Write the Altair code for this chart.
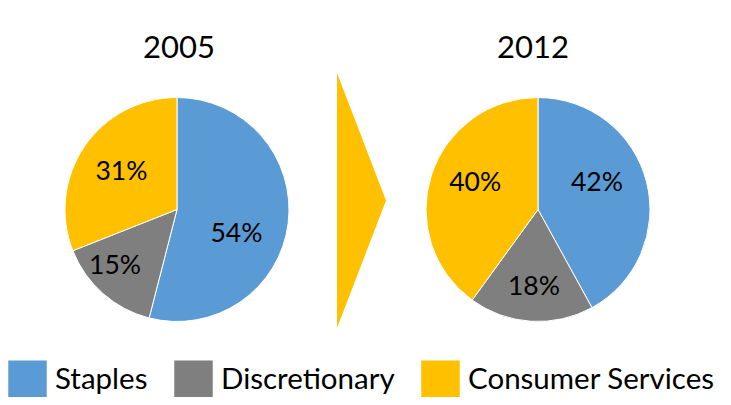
import altair as alt
import pandas as pd

categories = ["Staples", "Discretionary", "Consumer Services"]
share_2005 = [54, 15, 31]
share_2012 = [42, 18, 40]
years = ["2005", "2012"]
colors = ["#5B9BD5", "#7F7F7F", "#FFC000"]

FONT = "Lato"

rows = []
for yr, shares in zip(years, [share_2005, share_2012]):
    for i, (c, s) in enumerate(zip(categories, shares)):
        rows.append({"Year": yr, "Category": c, "Share": s, "Order": i, "Label": f"{s}%"})
df = pd.DataFrame(rows)
base_data = alt.Data(values=df.to_dict(orient="records"))

color = alt.Color(
    "Category:N",
    scale=alt.Scale(domain=categories, range=colors),
    sort=categories,
    legend=alt.Legend(
        orient="none", legendX=0, legendY=352, direction="horizontal",
        title=None, symbolType="square", symbolSize=1480, symbolStrokeWidth=0,
        symbolOpacity=1, labelFont=FONT, labelFontSize=29.5, labelColor="black",
        labelOffset=8, columnPadding=26, labelLimit=400,
    ),
)

# layout (pixel placement of each pie and best-fit label nudges)
centers = {"2005": 169, "2012": 530}
CY = 201.5
R = 112
label_radius = {"Staples": 66, "Discretionary": 80, "Consumer Services": 66}
nudge = {
    ("2005", "Staples"): (-6, 16),
    ("2005", "Discretionary"): (-9, -4),
    ("2005", "Consumer Services"): (-1, 0),
    ("2012", "Staples"): (-5, -10),
    ("2012", "Discretionary"): (1, -2),
    ("2012", "Consumer Services"): (0, -6),
}

layers = []
for yr in years:
    cx = centers[yr]
    arc = alt.Chart(base_data).transform_filter(alt.datum.Year == yr).mark_arc(
        outerRadius=R, stroke="white", strokeWidth=1
    ).encode(
        theta=alt.Theta("Share:Q", stack=True),
        order=alt.Order("Order:Q"),
        color=color,
        x=alt.value(cx), y=alt.value(CY),
    )
    layers.append(arc)
    for cat in categories:
        dx, dy = nudge[(yr, cat)]
        txt = alt.Chart(base_data).transform_filter(alt.datum.Year == yr).transform_window(
            cum="sum(Share)", sort=[alt.SortField("Order")], frame=[None, 0]
        ).transform_calculate(
            mid="datum.cum - datum.Share / 2"
        ).transform_filter(alt.datum.Category == cat).mark_text(
            font=FONT, fontSize=26.5, color="black", radius=label_radius[cat], dx=dx, dy=dy
        ).encode(
            theta=alt.Theta("mid:Q", stack=False, scale=alt.Scale(domain=[0, 100])),
            text="Label:N",
            x=alt.value(cx), y=alt.value(CY),
        )
        layers.append(txt)

title_data = alt.Data(values=[{"Year": y} for y in years])
title_pos = {"2005": 171, "2012": 525}
for yr in years:
    layers.append(
        alt.Chart(title_data).transform_filter(alt.datum.Year == yr).mark_text(
            font=FONT, fontSize=31, color="black", baseline="middle"
        ).encode(text="Year:N", x=alt.value(title_pos[yr]), y=alt.value(41))
    )

arrow_path = "M -0.192 -1 L 0.192 0 L -0.192 1 Z"
arrow = alt.Chart(alt.Data(values=[{"a": 1}])).mark_point(
    shape=arrow_path, size=65025, filled=True, color="#FFC000", opacity=1, strokeWidth=0
).encode(x=alt.value(353.5), y=alt.value(192.5))
layers.append(arrow)

chart = alt.layer(*layers).resolve_scale(theta="independent").properties(
    width=715, height=389, padding=0, autosize=alt.AutoSizeParams(type="none")
).configure_view(stroke=None)

chart.save("out.html", embed_options={"renderer": "svg", "actions": False})
